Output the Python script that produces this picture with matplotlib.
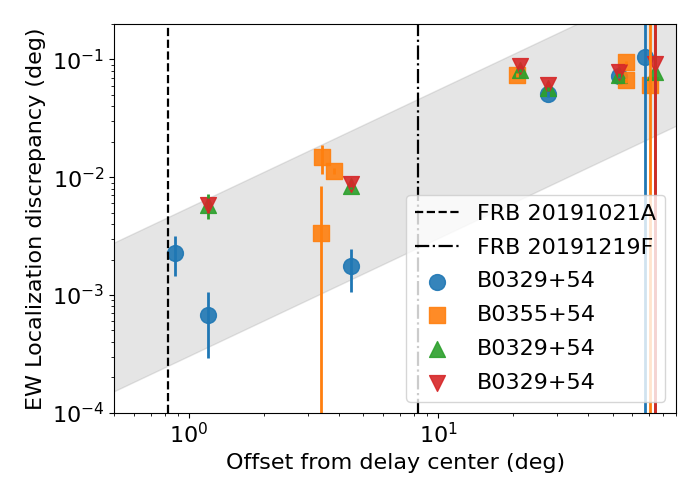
import numpy as np
import matplotlib
matplotlib.use('Agg')
import matplotlib.pyplot as plt

plt.rcParams['font.size'] = 16

# FRB offsets (deg)
frb_a = 0.82
frb_f = 8.3

# B0329+54 (circles)
x_c = [0.88, 1.19, 4.46, 27.6, 53.0, 67.7]
y_c = [2.29e-3, 6.7e-4, 1.75e-3, 0.0512, 0.0723, 0.105]
e_c = [0.85e-3, 0.38e-3, 0.69e-3, 0.003, 0.003, 1.0]

# B0355+54 (squares)
x_s = [3.37, 3.42, 3.82, 20.6, 56.4, 56.4, 70.5]
y_s = [3.33e-3, 1.48e-2, 1.13e-2, 0.0742, 0.0944, 0.0664, 0.061]
e_s = [5.1e-3, 4.1e-3, 0.6e-3, 0.003, 0.003, 0.003, 1.0]

# B0329+54 (up triangles)
x_u = [1.19, 4.46, 21.3, 27.6, 53.2, 73.8]
y_u = [5.8e-3, 8.5e-3, 0.0807, 0.0571, 0.0742, 0.078]
e_u = [1.4e-3, 0.6e-3, 0.003, 0.003, 0.003, 1.0]

# B0329+54 (down triangles)
x_d = [1.19, 4.46, 21.3, 27.6, 53.0, 73.8]
y_d = [5.8e-3, 8.7e-3, 0.0873, 0.061, 0.079, 0.0907]
e_d = [0.8e-3, 0.5e-3, 0.003, 0.003, 0.003, 1.0]

# band: discrepancy proportional to offset
band_lo = 3.0e-4
band_hi = 5.5e-3

fig = plt.figure(figsize=(7, 5), dpi=100)
ax = fig.add_axes([0.163, 0.1746, 0.803, 0.7774])

xx = np.logspace(-1, 2.5, 50)
ax.fill_between(xx, band_lo * xx, band_hi * xx, color='gray', alpha=0.2)

ax.axvline(frb_a, color='k', ls='--', lw=1.6, label='FRB 20191021A')
ax.axvline(frb_f, color='k', ls='-.', lw=1.6, label='FRB 20191219F')

series = [
    (x_c, y_c, e_c, 'o', 'tab:blue', 'B0329+54'),
    (x_s, y_s, e_s, 's', 'tab:orange', 'B0355+54'),
    (x_u, y_u, e_u, '^', 'tab:green', 'B0329+54'),
    (x_d, y_d, e_d, 'v', 'tab:red', 'B0329+54'),
]
for x, y, e, m, c, lab in series:
    ax.errorbar(x, y, yerr=e, fmt='none', ecolor=c, elinewidth=2)
    ax.scatter(x, y, marker=m, color=c, s=130, alpha=0.9, label=lab)

ax.set_xscale('log')
ax.set_yscale('log')
ax.set_xlim(0.5, 90)
ax.set_ylim(1e-4, 0.2)
ax.set_xlabel('Offset from delay center (deg)')
ax.set_ylabel('EW Localization discrepancy (deg)')
ax.legend(loc='lower right', labelspacing=0.62)

fig.savefig('out.png', dpi=100)
